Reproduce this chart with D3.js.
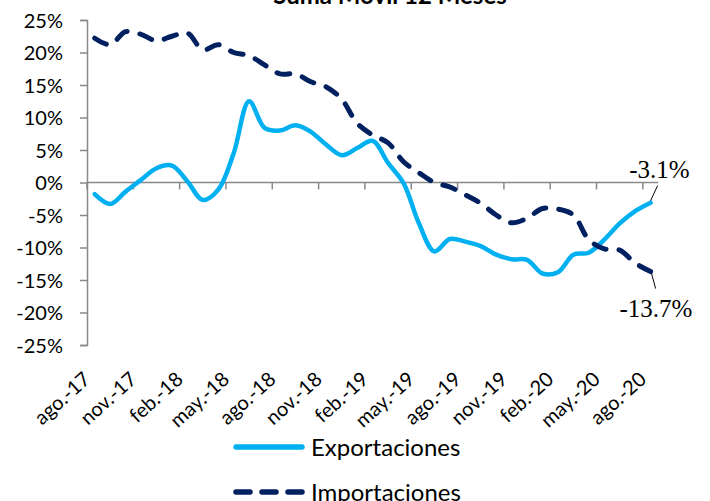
<!doctype html>
<html>
  <head>
    <meta charset="utf-8">
    <style>
      body { margin: 0; background: #fff; }
      text { font-family: Lato, "Open Sans", sans-serif; fill: #000; }
    </style>
  </head>
  <body>
    <div id="chart"></div>
    <script src="https://d3js.org/d3.v7.min.js"></script>
    <script>
      const months = ['ago.-17', 'sep.-17', 'oct.-17', 'nov.-17', 'dic.-17', 'ene.-18', 'feb.-18', 'mar.-18', 'abr.-18',
        'may.-18', 'jun.-18', 'jul.-18', 'ago.-18', 'sep.-18', 'oct.-18', 'nov.-18', 'dic.-18', 'ene.-19', 'feb.-19',
        'mar.-19', 'abr.-19', 'may.-19', 'jun.-19', 'jul.-19', 'ago.-19', 'sep.-19', 'oct.-19', 'nov.-19', 'dic.-19',
        'ene.-20', 'feb.-20', 'mar.-20', 'abr.-20', 'may.-20', 'jun.-20', 'jul.-20', 'ago.-20'];

      const exportaciones = [-1.8, -3.3, -1.4, 0.4, 2.2, 2.6, 0.2, -2.7, -1.1, 4.5, 12.5, 8.4, 8.0, 8.8, 7.8, 5.8, 4.2, 5.3, 6.4,
        3.0, -0.1, -6.3, -10.6, -8.7, -9.1, -9.8, -11.1, -11.8, -11.9, -14.0, -13.8, -11.1, -10.8, -8.8, -6.3, -4.4, -3.1];

      const importaciones = [22.2, 21.2, 23.2, 22.8, 21.8, 22.5, 23.0, 20.4, 21.2, 20.0, 19.5, 18.1, 16.7, 16.7, 15.5, 14.7, 12.8,
        9.1, 7.3, 6.1, 3.2, 1.5, 0.0, -0.7, -1.9, -3.2, -5.0, -6.2, -5.5, -4.0, -4.1, -5.0, -8.8, -10.2, -10.4, -12.4, -13.7];

      const yTicks = [-25, -20, -15, -10, -5, 0, 5, 10, 15, 20, 25];

      const width = 710, height = 501;
      const svg = d3.select('#chart').append('svg')
        .attr('width', width)
        .attr('height', height);

      const x = d3.scaleBand().domain(months).range([87, 658.3]);
      const y = d3.scaleLinear().domain([-25, 25]).range([345, 20]);
      const cx = d => x(d) + x.bandwidth() / 2;
      const axisColor = '#898989';

      // titulo (cortado arriba)
      svg.append('text')
        .attr('x', 390)
        .attr('y', 4)
        .attr('text-anchor', 'middle')
        .style('font-weight', 'bold')
        .style('font-size', '24px')
        .text('Suma Móvil 12 Meses');

      // eje y
      const yAxis = svg.append('g')
        .attr('transform', 'translate(87,0)')
        .call(d3.axisLeft(y).tickValues(yTicks).tickSize(7).tickFormat(d => d + '%'));
      yAxis.select('.domain').attr('stroke', axisColor).attr('stroke-width', 1.5);
      yAxis.selectAll('.tick line').attr('stroke', axisColor).attr('stroke-width', 1.5);
      yAxis.selectAll('.tick text')
        .attr('x', -24)
        .attr('dy', '0.36em')
        .style('font-size', '20px')
        .style('font-family', 'Lato, sans-serif');

      // eje x en cero
      const boundaries = d3.range(0, months.length + 1, 3);
      const xAxis = svg.append('g');
      xAxis.append('line')
        .attr('x1', 87).attr('x2', 658.3)
        .attr('y1', y(0)).attr('y2', y(0))
        .attr('stroke', axisColor).attr('stroke-width', 1.5);
      xAxis.selectAll('line.tk')
        .data(boundaries)
        .join('line')
        .attr('class', 'tk')
        .attr('x1', d => 87 + d * x.step()).attr('x2', d => 87 + d * x.step())
        .attr('y1', y(0)).attr('y2', y(0) + 7)
        .attr('stroke', axisColor).attr('stroke-width', 1.5);

      const labelMonths = months.filter((d, i) => i % 3 === 0);
      svg.append('g').selectAll('text')
        .data(labelMonths)
        .join('text')
        .attr('transform', d => `translate(${cx(d) - 3},${381}) rotate(-42)`)
        .attr('text-anchor', 'end')
        .style('font-size', '20px')
        .text(d => d);

      // lineas
      const line = d3.line()
        .x((d, i) => cx(months[i]))
        .y(d => y(d))
        .curve(d3.curveCatmullRom.alpha(0.5));

      svg.append('path')
        .datum(exportaciones)
        .attr('d', line)
        .attr('fill', 'none')
        .attr('stroke', '#00B0F0')
        .attr('stroke-width', 4.5)
        .attr('stroke-linejoin', 'round')
        .attr('stroke-linecap', 'round');

      svg.append('path')
        .datum(importaciones)
        .attr('d', line)
        .attr('fill', 'none')
        .attr('stroke', '#002060')
        .attr('stroke-width', 5)
        .attr('stroke-dasharray', '13,13')
        .attr('stroke-linecap', 'round');

      // etiquetas de ultimo valor
      const last = months.length - 1;
      const lx = cx(months[last]);
      svg.append('line')
        .attr('x1', lx).attr('y1', y(exportaciones[last]) - 2)
        .attr('x2', lx + 7).attr('y2', y(exportaciones[last]) - 17)
        .attr('stroke', '#000').attr('stroke-width', 1);
      svg.append('text')
        .attr('x', 659.5).attr('y', 178)
        .attr('text-anchor', 'middle')
        .style('font-family', '"Liberation Serif", serif')
        .style('font-size', '25px')
        .text(exportaciones[last].toFixed(1) + '%');

      svg.append('line')
        .attr('x1', lx + 1).attr('y1', y(importaciones[last]) + 2)
        .attr('x2', lx + 5).attr('y2', y(importaciones[last]) + 17)
        .attr('stroke', '#000').attr('stroke-width', 1);
      svg.append('text')
        .attr('x', 656).attr('y', 317)
        .attr('text-anchor', 'middle')
        .style('font-family', '"Liberation Serif", serif')
        .style('font-size', '25px')
        .text(importaciones[last].toFixed(1) + '%');

      // leyenda
      const legend = svg.append('g');
      const items = [
        { name: 'Exportaciones', color: '#00B0F0', dash: null, y: 447 },
        { name: 'Importaciones', color: '#002060', dash: '14,12', y: 492 }
      ];
      items.forEach(it => {
        legend.append('line')
          .attr('x1', 236).attr('x2', 302)
          .attr('y1', it.y).attr('y2', it.y)
          .attr('stroke', it.color)
          .attr('stroke-width', 5.5)
          .attr('stroke-linecap', 'round')
          .attr('stroke-dasharray', it.dash);
        legend.append('text')
          .attr('x', 311).attr('y', it.y + 9)
          .style('font-size', '24px')
          .text(it.name);
      });
    </script>
  </body>
</html>
